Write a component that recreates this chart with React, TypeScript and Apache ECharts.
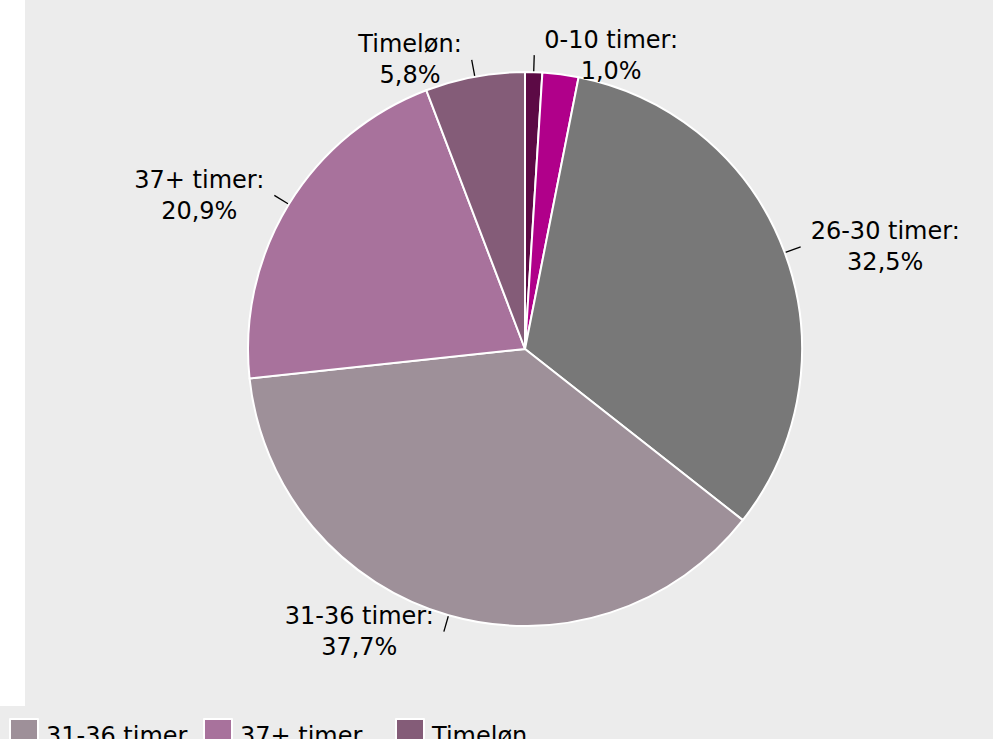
import React, { useEffect, useRef } from "react";
import * as echarts from "echarts";

const categories = ["0-10 timer", "11-25 timer", "26-30 timer", "31-36 timer", "37+ timer", "Timeløn"];
const values = [1.0, 2.1, 32.5, 37.7, 20.9, 5.8];
const showLabel = [true, false, true, true, true, true];
const colors = ["#5c0a45", "#b0008a", "#787878", "#9e9099", "#a8729c", "#845c78"];
const legendItems = ["31-36 timer", "37+ timer", "Timeløn"];
const legendLefts = [9, 203, 395];

const FONT = "DejaVu Sans, Verdana, sans-serif";

export default function App() {
  const ref = useRef<HTMLDivElement>(null);
  useEffect(() => {
    if (!ref.current) return;
    const chart = echarts.init(ref.current, undefined, { renderer: "svg" });
    const data = categories.map((name, i) => ({
      name,
      value: values[i],
      itemStyle: { color: colors[i] },
      label: { show: showLabel[i] },
      labelLine: { show: showLabel[i] },
    }));
    chart.setOption({
      animation: false,
      backgroundColor: "#ececec",
      graphic: [
        { type: "rect", left: 0, top: 0, shape: { width: 25, height: 706 }, style: { fill: "#ffffff" }, silent: true },
      ],
      legend: legendItems.map((n, i) => ({
        data: [n],
        left: legendLefts[i],
        top: 718,
        padding: 0,
        orient: "horizontal",
        icon: "rect",
        itemWidth: 28,
        itemHeight: 28,
        selectedMode: false,
        formatter: (name: string) => `{t|${name}}`,
        textStyle: {
          fontFamily: FONT,
          fontSize: 24,
          color: "#000",
          rich: { t: { fontFamily: FONT, fontSize: 24, color: "#000", padding: [6, 0, 0, 3] } },
        },
      })),
      series: [
        {
          type: "pie",
          center: [525, 349],
          radius: [0, 277],
          startAngle: 90,
          clockwise: true,
          avoidLabelOverlap: false,
          itemStyle: { borderColor: "#ffffff", borderWidth: 2 },
          label: {
            show: true,
            position: "outside",
            fontFamily: FONT,
            fontSize: 24,
            lineHeight: 31,
            color: "#000",
            distanceToLabelLine: 10,
            formatter: (p: any) => `${p.name}:\n${p.value.toFixed(1).replace(".", ",")}%`,
          },
          labelLine: {
            show: true,
            length: 17,
            length2: 0,
            lineStyle: { color: "#000", width: 1.3 },
          },
          labelLayout: (params: any) => {
            const r = params.labelRect;
            if (!r) return {};
            return {
              x: r.x + r.width / 2,
              y: r.y + r.height / 2,
              align: "center",
              verticalAlign: "middle",
              labelLinePoints: params.labelLinePoints,
            };
          },
          emphasis: { disabled: true },
          data,
        },
      ],
    });
    return () => chart.dispose();
  }, []);
  return <div ref={ref} style={{ position: "fixed", left: 0, top: 0, width: 993, height: 739 }} />;
}
